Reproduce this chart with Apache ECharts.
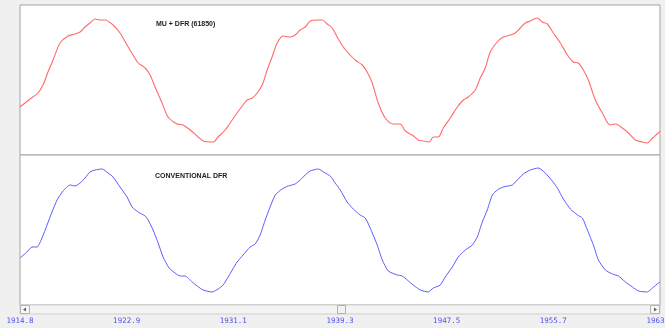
<!DOCTYPE html>
<html>
<head>
<meta charset="utf-8">
<script src="https://cdn.jsdelivr.net/npm/echarts@6/dist/echarts.min.js"></script>
<style>
html,body{margin:0;padding:0;background:#f0f0f0;}
#c{width:665px;height:328px;}
</style>
</head>
<body>
<div id="c"></div>
<script>
// ---- data ----
const topTitle = "MU + DFR (61850)";
const bottomTitle = "CONVENTIONAL DFR";

const xMin = 1914.8;
const xMax = 1964.0;
const xStep = 8.2;
const tickLabels = ["1914.8","1922.9","1931.1","1939.3","1947.5","1955.7","1963.9"];

const topYears = [1914.80,1915.57,1916.18,1916.57,1916.95,1917.34,1917.88,1918.49,1919.03,1919.42,1919.80,1920.18,1920.57,1920.95,1921.34,1921.95,1922.49,1923.03,1923.49,1923.88,1924.42,1924.80,1925.18,1925.72,1926.18,1926.88,1927.34,1927.88,1928.42,1928.88,1929.65,1930.03,1930.57,1931.11,1931.49,1931.88,1932.26,1932.65,1933.03,1933.42,1933.80,1934.18,1934.57,1935.03,1935.57,1935.95,1936.34,1936.72,1937.11,1937.65,1938.03,1938.42,1938.80,1939.18,1939.65,1940.18,1940.57,1941.11,1941.49,1941.88,1942.34,1942.88,1943.49,1944.03,1944.42,1944.95,1945.42,1945.80,1946.26,1946.57,1946.95,1947.34,1947.88,1948.42,1948.88,1949.26,1949.80,1950.18,1950.57,1950.95,1951.49,1951.95,1952.49,1952.88,1953.26,1953.65,1954.03,1954.57,1954.95,1955.34,1955.80,1956.34,1956.88,1957.34,1957.72,1958.11,1958.49,1959.03,1959.57,1960.18,1960.57,1961.11,1961.57,1962.11,1962.65,1963.03,1963.42,1963.88,1964.0];
const topValues = [48,56,62,70,83,95,112,119,121,123,128,132,136,135,135,130,122,110,100,92,87,80,68,52,38,31,30,25,19,14,13,18,25,35,42,49,55,57,62,70,85,98,112,119,118,120,125,128,134,135,135,131,127,118,108,100,95,90,83,72,52,37,31,31,24,20,15,14,13,18,18,27,37,48,55,58,65,77,87,103,113,118,120,122,127,132,134,137,133,131,122,112,100,93,92,85,75,55,42,30,31,27,22,15,13,12,17,22,24];

const bottomYears = [1914.80,1915.34,1915.72,1916.11,1916.49,1916.88,1917.26,1917.65,1918.11,1918.65,1919.03,1919.42,1919.80,1920.18,1920.57,1921.11,1921.57,1921.95,1922.49,1923.03,1923.42,1923.88,1924.42,1924.65,1925.03,1925.42,1925.80,1926.26,1926.72,1927.11,1927.49,1928.03,1928.42,1928.88,1929.57,1930.03,1930.42,1930.80,1931.34,1931.49,1931.95,1932.49,1932.88,1933.26,1933.65,1934.03,1934.42,1934.95,1935.42,1935.95,1936.34,1936.72,1937.11,1937.72,1938.26,1938.65,1939.03,1939.42,1939.95,1940.42,1940.95,1941.34,1941.72,1942.26,1942.65,1943.11,1943.80,1944.18,1944.57,1945.03,1945.57,1946.18,1946.57,1947.11,1947.49,1948.03,1948.49,1949.03,1949.57,1949.95,1950.34,1950.72,1951.11,1951.49,1951.95,1952.65,1953.03,1953.49,1954.03,1954.65,1955.18,1955.72,1956.11,1956.57,1957.11,1957.65,1958.03,1958.42,1958.88,1959.26,1959.80,1960.34,1960.80,1961.34,1961.88,1962.34,1963.03,1963.42,1963.88,1964.0];
const bottomValues = [47,53,58,58,67,80,93,105,114,120,119,122,127,133,135,136,132,128,118,108,98,93,89,85,75,62,48,37,32,29,29,23,19,15,13,16,20,28,40,43,50,58,61,70,85,98,110,116,119,121,125,130,134,136,132,129,122,115,103,96,90,87,77,60,45,34,30,29,25,20,15,13,17,20,28,38,48,55,60,68,83,95,110,115,118,120,125,131,135,137,132,124,117,106,96,90,87,75,60,45,35,31,29,23,18,14,13,17,22,23];

// ---- chart ----
function pairs(xs, ys){ return xs.map((x,i)=>[x, ys[i]]); }

const chart = echarts.init(document.getElementById('c'), null, {renderer:'canvas'});
const gridCommon = {left:20, right:5, show:true, backgroundColor:'#ffffff', borderColor:'#a4a4a4', borderWidth:1, outerBoundsMode:'none', containLabel:false};
const xCommon = {type:'value', min:xMin, max:xMax, interval:xStep, splitLine:{show:false}, axisTick:{show:false}, axisLine:{show:false}};
const yCommon = {type:'value', min:0, max:150, show:false};

chart.setOption({
  backgroundColor:'#f0f0f0',
  animation:false,
  title:[
    {text:topTitle, left:151, top:16, textStyle:{fontFamily:'Liberation Sans', fontSize:7, fontWeight:'bold', color:'#222'}},
    {text:bottomTitle, left:150, top:168, textStyle:{fontFamily:'Liberation Sans', fontSize:7, fontWeight:'bold', color:'#222'}}
  ],
  grid:[
    Object.assign({top:5, height:150}, gridCommon),
    Object.assign({top:155, height:150}, gridCommon)
  ],
  xAxis:[
    Object.assign({gridIndex:0, axisLabel:{show:false}}, xCommon),
    Object.assign({gridIndex:1, axisLabel:{show:true, margin:12, fontFamily:'DejaVu Sans Mono', fontSize:7.5, color:'#5050f0',
      showMinLabel:true, showMaxLabel:true, hideOverlap:false,
      formatter:(v)=>{ const i=Math.round((v-xMin)/xStep); return tickLabels[i]||''; }}}, xCommon)
  ],
  yAxis:[
    Object.assign({gridIndex:0}, yCommon),
    Object.assign({gridIndex:1}, yCommon)
  ],
  series:[
    {type:'line', xAxisIndex:0, yAxisIndex:0, data:pairs(topYears, topValues), showSymbol:false, smooth:0.3, lineStyle:{color:'#ff6a6a', width:1.1}},
    {type:'line', xAxisIndex:1, yAxisIndex:1, data:pairs(bottomYears, bottomValues), showSymbol:false, smooth:0.2, lineStyle:{color:'#5c5cff', width:1}}
  ],
  graphic:[
    {type:'rect', shape:{x:20, y:305, width:640, height:9}, style:{fill:'#f4f4f4', stroke:'#cfcfcf', lineWidth:1}},
    {type:'rect', shape:{x:20.5, y:305.5, width:9, height:8}, style:{fill:'#f7f7f7', stroke:'#b4b4b4', lineWidth:1}},
    {type:'polygon', shape:{points:[[23,309.5],[26,307.5],[26,311.5]]}, style:{fill:'#606060'}},
    {type:'rect', shape:{x:650.5, y:305.5, width:9, height:8}, style:{fill:'#f7f7f7', stroke:'#b4b4b4', lineWidth:1}},
    {type:'polygon', shape:{points:[[657,309.5],[654,307.5],[654,311.5]]}, style:{fill:'#606060'}},
    {type:'rect', shape:{x:337.5, y:305.5, width:8, height:8}, style:{fill:'#f2f2f2', stroke:'#b0b0b0', lineWidth:1}}
  ]
});
</script>
</body>
</html>
